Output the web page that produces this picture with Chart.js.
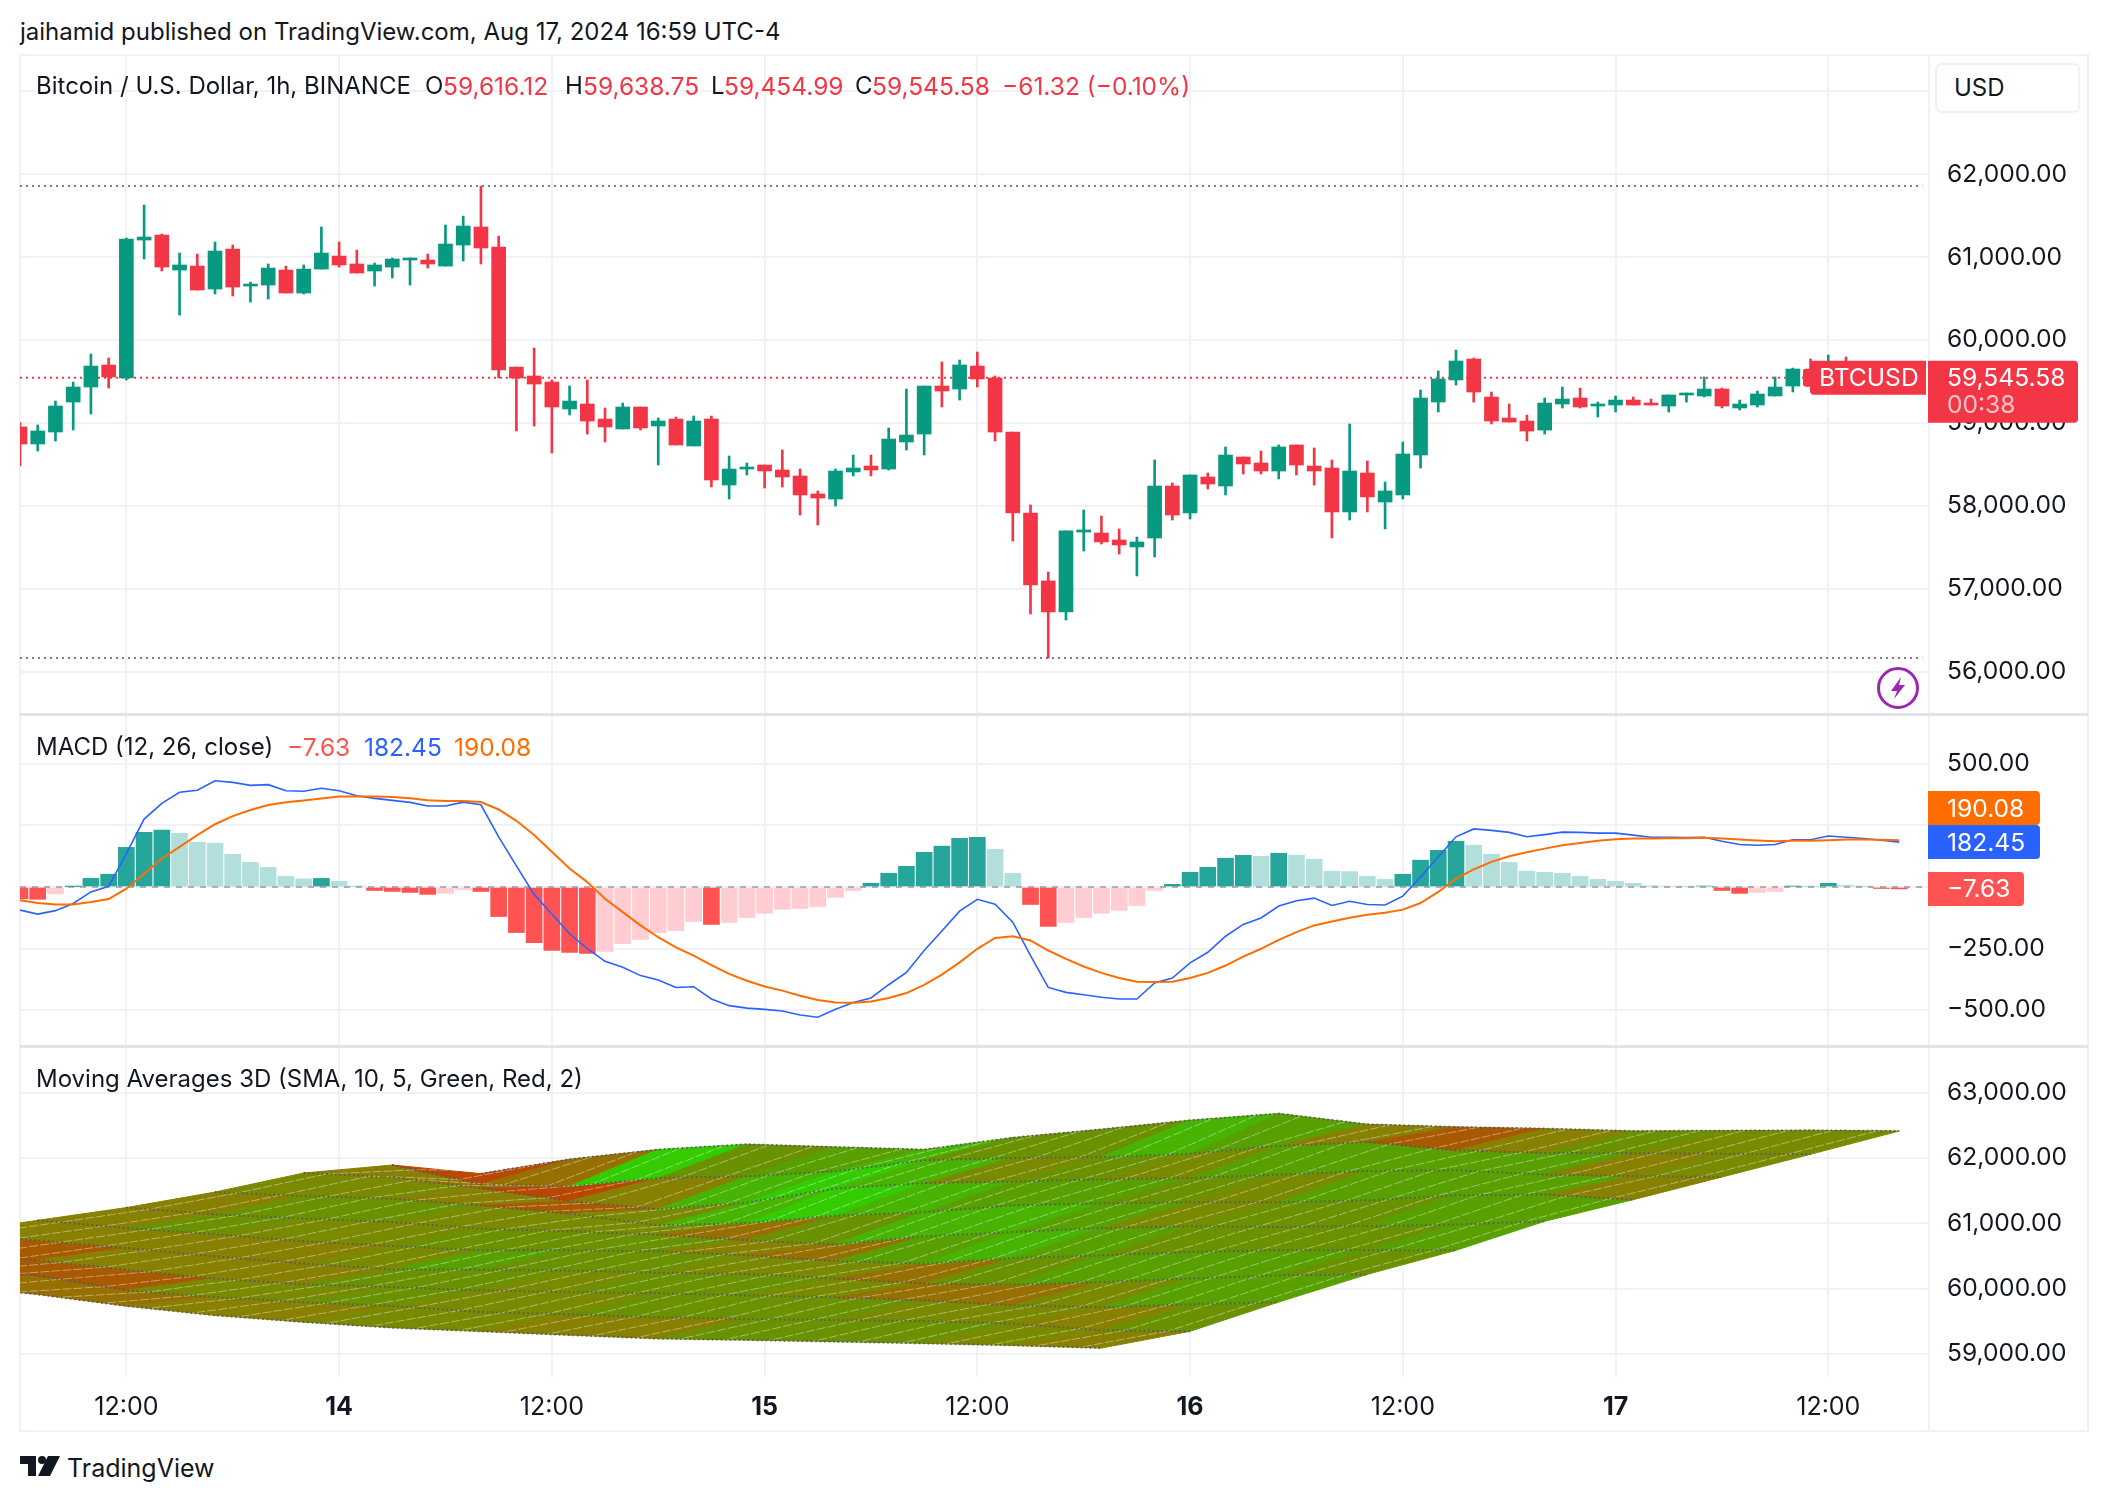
<!DOCTYPE html>
<html><head><meta charset="utf-8">
<script src="https://cdn.jsdelivr.net/npm/chart.js@4/dist/chart.umd.js"></script>
<style>
html,body{margin:0;padding:0;background:#fff;width:2108px;height:1502px;overflow:hidden;font-family:Inter,"Liberation Sans",sans-serif;color:#131722}
canvas{position:absolute;display:block}
.t{position:absolute;white-space:nowrap;font-size:24px;line-height:30px}
.n{font-size:24.5px}
.r{color:#f23645;font-size:24.5px}
.line{position:absolute;background:#f0f1f5}
.div{position:absolute;background:#e0e3eb}
</style></head><body>
<div class="t" style="left:20px;top:17px">jaihamid published on TradingView.com, Aug 17, 2024 16:59 UTC-4</div>
<div class="line" style="left:20px;top:54px;width:2068px;height:2px"></div>
<div class="line" style="left:19px;top:54px;width:2px;height:1378px"></div>
<div class="line" style="left:2087px;top:54px;width:2px;height:1378px"></div>
<div class="line" style="left:1928px;top:54px;width:2px;height:1378px"></div>
<div class="line" style="left:20px;top:1430px;width:2068px;height:2px"></div>
<canvas id="c1" style="left:20px;top:54px" width="2068" height="660"></canvas>
<canvas id="c2" style="left:20px;top:714px" width="2068" height="332"></canvas>
<canvas id="c3" style="left:20px;top:1046px" width="2068" height="385"></canvas>
<div class="div" style="left:20px;top:713px;width:2068px;height:3px"></div>
<div class="div" style="left:20px;top:1045px;width:2068px;height:3px"></div>
<div class="t" style="left:36px;top:71px">Bitcoin / U.S. Dollar, 1h, BINANCE</div>
<div class="t" style="left:425px;top:71px">O</div><div class="t r" style="left:443px;top:71px">59,616.12</div>
<div class="t" style="left:565px;top:71px">H</div><div class="t r" style="left:583px;top:71px">59,638.75</div>
<div class="t" style="left:711px;top:71px">L</div><div class="t r" style="left:724px;top:71px">59,454.99</div>
<div class="t" style="left:855px;top:71px">C</div><div class="t r" style="left:872px;top:71px">59,545.58</div>
<div class="t r" style="left:1002px;top:71px">−61.32 (−0.10%)</div>
<div style="position:absolute;left:1935px;top:63px;width:145px;height:50px;background:#fff;border:2px solid #f0f1f5;box-sizing:border-box;border-radius:6px"></div>
<div class="t" style="left:1954px;top:73px">USD</div>
<div class="t" style="left:36px;top:732px">MACD (12, 26, close)</div>
<div class="t n" style="left:287px;top:732px;color:#ff5252">−7.63</div>
<div class="t n" style="left:364px;top:732px;color:#2962ff">182.45</div>
<div class="t n" style="left:454px;top:732px;color:#ff6d00">190.08</div>
<div class="t" style="left:36px;top:1064px">Moving Averages 3D (SMA, 10, 5, Green, Red, 2)</div>
<svg style="position:absolute;left:1876px;top:666px" width="44" height="44" viewBox="0 0 44 44"><circle cx="22" cy="22" r="19.5" fill="#fff" stroke="#9c27b0" stroke-width="3"/><path d="M25 11 L15 25 L21 25 L18 33 L29 19 L23 19 Z" fill="#9c27b0"/></svg>
<svg style="position:absolute;left:20px;top:1456px" width="40" height="20" viewBox="0 0 40 20"><path d="M0 0H16V20H8V8H0Z M28 0H40L30 20H18Z" fill="#131722"/><circle cx="22" cy="4" r="4" fill="#131722"/></svg>
<div class="t" style="left:67px;top:1453px;font-size:25px">TradingView</div>
<script>
// ---- Candles (1h bars, bar 0 = Aug 13 06:00) ----
const open_ = [58951,58746,58890,59252,59433,59698,59542,61206,61266,60844,60892,60615,61097,60651,60663,60844,60567,60856,61013,60917,60832,60880,60965,60965,60892,61146,61363,61122,59674,59566,59493,59168,59228,59047,58927,59192,58963,59047,58722,59047,58251,58444,58492,58432,58360,58143,58082,58408,58480,58444,58770,58866,59445,59409,59686,59542,58890,57914,57094,56720,57684,57672,57588,57504,57612,58239,57914,58348,58239,58589,58517,58420,58734,58480,58456,57926,58396,58046,58131,58613,59252,59518,59771,59312,59059,59023,58914,59228,59300,59204,59216,59276,59240,59204,59337,59325,59409,59180,59216,59325,59445,59640,59500,59600,59545,59620,59616.12];
const high_ = [59003,58975,59264,59493,59831,59783,61230,61628,61278,61049,61037,61182,61146,60699,60917,60892,60905,61363,61182,61085,60929,60989,60989,61037,61387,61495,61857,61254,59674,59904,59518,59445,59518,59180,59240,59192,59059,59071,59083,59083,58601,58517,58492,58673,58444,58179,58444,58613,58613,58939,59409,59445,59735,59759,59855,59566,58890,58010,57202,57697,57950,57877,57721,57624,58553,58275,58372,58396,58710,58589,58661,58734,58734,58698,58553,58987,58541,58287,58770,59397,59626,59879,59783,59373,59228,59095,59300,59433,59421,59252,59325,59313,59288,59337,59361,59554,59421,59276,59385,59554,59662,59771,59819,59795,59700,59680,59638.75];
const low_ = [58480,58661,58782,58915,59108,59421,59518,60977,60832,60301,60603,60555,60531,60458,60494,60567,60555,60856,60880,60808,60651,60748,60663,60868,60892,60953,60917,59542,58903,58963,58637,59096,58866,58770,58927,58915,58492,58734,58722,58227,58082,58372,58215,58227,57889,57769,57998,58360,58360,58432,58673,58613,59192,59276,59433,58782,57576,56696,56165,56623,57455,57540,57419,57154,57383,57829,57841,58203,58131,58384,58384,58324,58372,58251,57612,57829,57926,57721,58082,58456,59132,59457,59252,58987,59011,58782,58866,59180,59180,59071,59132,59216,59216,59132,59252,59313,59180,59156,59192,59325,59373,59450,59450,59500,59480,59520,59454.99];
const close_ = [58746,58903,59204,59433,59686,59554,61218,61242,60880,60905,60603,61073,60639,60675,60868,60567,60856,61049,60905,60808,60905,60977,60989,60917,61158,61375,61110,59638,59542,59469,59192,59264,59023,58951,59192,58939,59023,58734,59023,58312,58444,58468,58420,58348,58131,58094,58420,58456,58432,58806,58854,59445,59385,59699,59530,58890,57914,57045,56720,57697,57709,57564,57528,57564,58239,57889,58372,58263,58613,58505,58420,58710,58492,58420,57926,58420,58107,58179,58625,59300,59530,59747,59373,59023,59011,58902,59240,59288,59192,59228,59276,59216,59216,59337,59361,59409,59204,59228,59349,59433,59650,59493,59600,59545,59620,59616,59545.58];
const highMark = 61857, lowMark = 56165, lastPrice = 59545.58;
const priceTicks = [56000,57000,58000,59000,60000,61000,62000,63000];

// ---- MACD ----
const macdHist = [-48,-50,-28,2,35,52,161,222,231,218,182,178,133,100,80,43,33,35,23,3,-14,-18,-22,-30,-26,-10,-18,-120,-185,-226,-258,-266,-270,-262,-230,-213,-185,-177,-140,-152,-144,-124,-107,-91,-87,-79,-42,-14,15,56,84,141,166,198,202,153,56,-71,-160,-144,-124,-107,-95,-75,-14,11,60,80,117,129,125,137,129,113,64,63,43,31,52,109,149,186,170,133,100,64,60,56,43,31,23,15,5,4,3,4,-14,-26,-22,-18,3,2,15,7,3,-6,-7.63];
const macdLine = [-94,-110,-96,-67,-20,3,136,276,340,385,393,432,425,413,416,391,389,401,391,371,360,352,344,329,329,345,334,204,86,-30,-110,-190,-250,-302,-326,-360,-378,-408,-405,-455,-482,-492,-497,-504,-520,-529,-497,-469,-451,-397,-347,-258,-179,-98,-50,-70,-143,-279,-408,-428,-438,-448,-455,-455,-390,-370,-308,-265,-200,-152,-126,-77,-56,-45,-75,-58,-71,-73,-37,41,122,204,236,230,222,204,213,223,222,219,219,211,202,202,201,202,186,173,170,173,192,192,207,202,197,190,182.45];
const signalLine = [-54,-65,-71,-71,-61,-49,-7,54,115,163,211,255,288,313,333,344,352,360,368,368,368,366,361,353,349,349,345,315,269,211,143,75,20,-48,-102,-156,-204,-245,-279,-317,-353,-381,-404,-421,-442,-459,-469,-470,-465,-451,-431,-398,-356,-306,-251,-207,-200,-217,-258,-292,-323,-349,-370,-385,-386,-385,-370,-349,-319,-283,-251,-215,-183,-156,-140,-125,-113,-105,-92,-65,-20,34,72,102,125,141,156,170,179,188,194,197,197,198,198,200,197,193,189,186,188,188,190,193,193,192,190.08];
const macdTicks = [-500,-250,0,250,500];

// ---- Moving Averages 3D: ten SMA ribbons, each drawn 5 bars earlier than the last; read every 5 bars, newest first ----
const ma0 = [62413,62424,62419,62413,62450,62475,62516,62680,62577,62439,62312,62129,62168,62210,62129,61980,61761];
const ma1 = [62057,62067,62072,62077,62118,62245,62184,62067,62015,62000,61965,61796,61720,61694,61567,61597,61893];
const ma2 = [61709,61724,61746,61812,61801,61746,61694,61674,61639,61617,61532,61317,61215,61342,61536,61709,61770];
const ma3 = [61363,61440,61429,61352,61322,61322,61306,61276,61173,61118,61005,60970,61149,61276,61378,61418,61479];
const ma4 = [61031,60980,60959,60944,60954,60928,60867,60801,60679,60740,60827,60878,60919,61020,61072,61138,61241];
const ma5 = [60587,60591,60587,60561,60510,60469,60383,60423,60510,60572,60587,60587,60653,60725,60832,60928,61046];
const ma6 = [60219,60204,60154,60102,60062,60077,60154,60224,60245,60276,60291,60296,60383,60495,60622,60740,60847];
const ma7 = [59795,59760,59714,59745,59821,59867,59898,59929,59948,59974,60025,60066,60154,60291,60434,60536,60633];
const ma8 = [59347,59362,59465,59504,59520,59535,59561,59607,59642,59734,59791,59872,59974,60200,60307,60434];
const ma9 = [59091,59132,59163,59189,59214,59235,59290,59347,59403,59489,59592,59734,59913,60051,60189];
// cell colours between neighbouring ribbons: 0 = red ... 8 = green
const tone0 = [4,4,5,3,1,3,6,7,5,5,7,6,5,8,2,0];
const tone1 = [4,3,6,6,6,6,4,5,4,7,8,7,3,0,2,3];
const tone2 = [3,6,6,6,4,5,6,6,7,8,7,4,1,3,4,4];
const tone3 = [6,6,5,5,4,6,7,7,5,2,4,4,4,5,5,3];
const tone4 = [6,5,5,5,6,7,6,2,3,5,5,5,4,4,5,3];
const tone5 = [5,6,6,6,5,2,4,4,5,5,6,4,3,3,3,3];
const tone6 = [6,6,4,2,2,4,5,5,4,5,5,3,3,3,1,1];
const tone7 = [5,3,4,4,5,5,5,4,4,5,4,4,1,1,1];
const tone8 = [3,4,5,5,5,3,3,4,4,3,3,2,2,2];
const tonePalette = ['#b84800','#a85a00','#967000','#878000','#7a8a00','#6a9200','#58a000','#46b400','#33cc00'];
const maTicks = [59000,60000,61000,62000,63000];

// ---- Time axis ----
const timeTickBars = [6,18,30,42,54,66,78,90,102];
const timeTickLabels = ['12:00','14','12:00','15','12:00','16','12:00','17','12:00'];

const UP='#089981', DOWN='#f23645', GRID='#f1f2f5', FONT='Inter', LASTBAR=106, XMAX=107.68;
const TICKFONT='24.6px ';
const bars = close_.map((_,i)=>i);
const price = v => (v<0?'−':'')+Math.abs(v).toLocaleString('en-US',{minimumFractionDigits:2,maximumFractionDigits:2});
const fitY = s => { s.width = 159; s.paddingTop = 0; s.paddingBottom = 0; };
const yScale = (min,max,ticks)=>({type:'linear',position:'right',min,max,afterFit:fitY,
  afterBuildTicks:s=>{s.ticks=ticks.map(v=>({value:v}));},
  border:{display:false},grid:{color:GRID,lineWidth:2,drawTicks:false},
  ticks:{crossAlign:'near',padding:18,color:'#131722',font:{family:FONT,size:24.6},callback:v=>price(v)}});
const xScale = (h,showLabels)=>({type:'linear',offset:false,min:0,max:XMAX,afterFit:s=>{s.height=h;s.paddingLeft=0;s.paddingRight=0;},
  afterBuildTicks:s=>{s.ticks=timeTickBars.map(v=>({value:v}));},
  border:{display:false},grid:{offset:false,color:GRID,lineWidth:2,drawTicks:false},
  ticks:{display:showLabels,autoSkip:false,maxRotation:0,padding:16,color:'#131722',
    callback:v=>timeTickLabels[timeTickBars.indexOf(v)],
    font:c=>({family:FONT,size:25,weight:/^\d+$/.test(c.tick&&c.tick.label||'')?'700':'400'})}});
const base = {responsive:false,animation:false,events:[],layout:{padding:0},
  plugins:{legend:{display:false},tooltip:{enabled:false},title:{display:false}},
  elements:{point:{radius:0}}};
function tag(ctx,x,y,w,h,color,lines){
  ctx.save();ctx.fillStyle=color;ctx.beginPath();ctx.roundRect(x,y,w,h,[0,4,4,0]);ctx.fill();
  ctx.textBaseline='middle';ctx.textAlign='left';ctx.font=TICKFONT+FONT;
  lines.forEach(l=>{ctx.fillStyle=l.c||'#fff';ctx.fillText(l.t,l.x,l.y);});ctx.restore();
}

// ---- Price pane ----
const c=(o,cl)=>cl>=o?UP:DOWN;
new Chart(document.getElementById('c1'),{
  data:{datasets:[
    {type:'bar',order:1,data:bars.map(i=>({x:i,y:[open_[i],close_[i]]})),barThickness:14,grouped:false,borderSkipped:false,
      backgroundColor:bars.map(i=>c(open_[i],close_[i]))},
    {type:'bar',order:2,data:bars.map(i=>({x:i,y:[low_[i],high_[i]]})),barThickness:2,grouped:false,borderSkipped:false,
      backgroundColor:bars.map(i=>c(open_[i],close_[i]))},
    {type:'line',order:3,data:[{x:0,y:lastPrice},{x:XMAX,y:lastPrice}],borderColor:DOWN,borderWidth:2,borderDash:[2,4]},
    {type:'line',order:3,data:[{x:0,y:highMark},{x:107.3,y:highMark}],borderColor:'#787b86',borderWidth:2,borderDash:[2,4]},
    {type:'line',order:3,data:[{x:0,y:lowMark},{x:107.3,y:lowMark}],borderColor:'#787b86',borderWidth:2,borderDash:[2,4]}
  ]},
  options:{...base,scales:{x:xScale(0,false),y:yScale(55489,63450,priceTicks)}},
  plugins:[{id:'priceTags',afterDraw(ch){
    const ctx=ch.ctx,a=ch.chartArea,y=ch.scales.y.getPixelForValue(lastPrice),top=y-17;
    ctx.save();ctx.fillStyle=DOWN;ctx.beginPath();ctx.roundRect(a.right-119,top,116,34,[4,0,0,4]);ctx.fill();
    ctx.beginPath();ctx.roundRect(a.right-126,y-9,14,18,3);ctx.fill();ctx.restore();
    tag(ctx,a.right-1,top,150,62,DOWN,[{t:price(lastPrice),x:a.right+18,y:y+1},{t:'00:38',x:a.right+18,y:y+28,c:'rgba(255,255,255,.7)'}]);
    ctx.save();ctx.fillStyle='#fff';ctx.font=TICKFONT+FONT;ctx.textBaseline='middle';ctx.fillText('BTCUSD',a.right-110,y+1);ctx.restore();
  }}]
});

// ---- MACD pane ----
const histColor=bars.map(i=>{const v=macdHist[i],p=i?macdHist[i-1]:v;
  const rising=v>p; return v>=0?(rising?'#26a69a':'#b2dfdb'):(rising?'#ffcdd2':'#ff5252');});
new Chart(document.getElementById('c2'),{
  data:{datasets:[
    {type:'line',order:1,data:bars.map(i=>({x:i,y:signalLine[i]})),borderColor:'#ff6d00',borderWidth:2},
    {type:'line',order:2,data:bars.map(i=>({x:i,y:macdLine[i]})),borderColor:'#2962ff',borderWidth:1.6},
    {type:'line',order:3,data:[{x:0,y:0},{x:XMAX,y:0}],borderColor:'rgba(120,123,134,.55)',borderWidth:2,borderDash:[6,6]},
    {type:'bar',order:4,data:bars.map(i=>({x:i,y:macdHist[i]})),barThickness:16,grouped:false,backgroundColor:histColor}
  ]},
  options:{...base,scales:{x:xScale(0,false),y:yScale(-646,703,macdTicks)}},
  plugins:[{id:'macdTags',afterDraw(ch){
    const ctx=ch.ctx,a=ch.chartArea,s=ch.scales.y;
    const last=macdLine.length-1,by=s.getPixelForValue(macdLine[last]),ry=s.getPixelForValue(macdHist[last]);
    const bt=by-17,x=a.right+18;
    tag(ctx,a.right-1,bt-34,112,34,'#ff6d00',[{t:price(signalLine[last]),x,y:bt-16}]);
    tag(ctx,a.right-1,bt,112,34,'#2962ff',[{t:price(macdLine[last]),x,y:bt+18}]);
    tag(ctx,a.right-1,ry-17,96,34,'#ff5252',[{t:price(macdHist[last]),x,y:ry+1}]);
  }}]
});

// ---- Moving Averages 3D pane ----
const mas=[ma0,ma1,ma2,ma3,ma4,ma5,ma6,ma7,ma8,ma9];
const tones=[tone0,tone1,tone2,tone3,tone4,tone5,tone6,tone7,tone8];
const node=(k,m)=>({x:LASTBAR-5*m,y:mas[k][m-k]});
const cells=[],hatch=[];
tones.forEach((row,k)=>row.forEach((t,idx)=>{
  const m=k+idx,a=node(k,m),b=node(k,m+1),d=node(k+1,m+1),e=node(k+1,m+2);
  cells.push({type:'line',order:3,data:[a,b,e,d,a],fill:'shape',tension:0,backgroundColor:tonePalette[t],borderColor:tonePalette[t],borderWidth:1});
  for(const f of [0.25,0.75]){
    hatch.push({x:a.x+(b.x-a.x)*f,y:a.y+(b.y-a.y)*f},{x:d.x+(e.x-d.x)*f,y:d.y+(e.y-d.y)*f},{x:d.x,y:null});}
}));
const maLines=mas.map((l,k)=>({type:'line',order:1,data:l.map((_,i)=>i).reverse().map(i=>({x:LASTBAR-5*(i+k),y:l[i]})),
  borderColor:'rgba(85,85,90,.95)',borderWidth:2,borderDash:[1.5,3]}));
new Chart(document.getElementById('c3'),{
  data:{datasets:[...maLines,
    {type:'line',order:2,data:hatch,borderColor:'rgba(255,255,255,.4)',borderWidth:1,borderDash:[9,2],spanGaps:false},
    ...cells]},
  options:{...base,scales:{x:xScale(54.3,true),y:yScale(58652,63715,maTicks)}}
});
</script>
</body></html>
